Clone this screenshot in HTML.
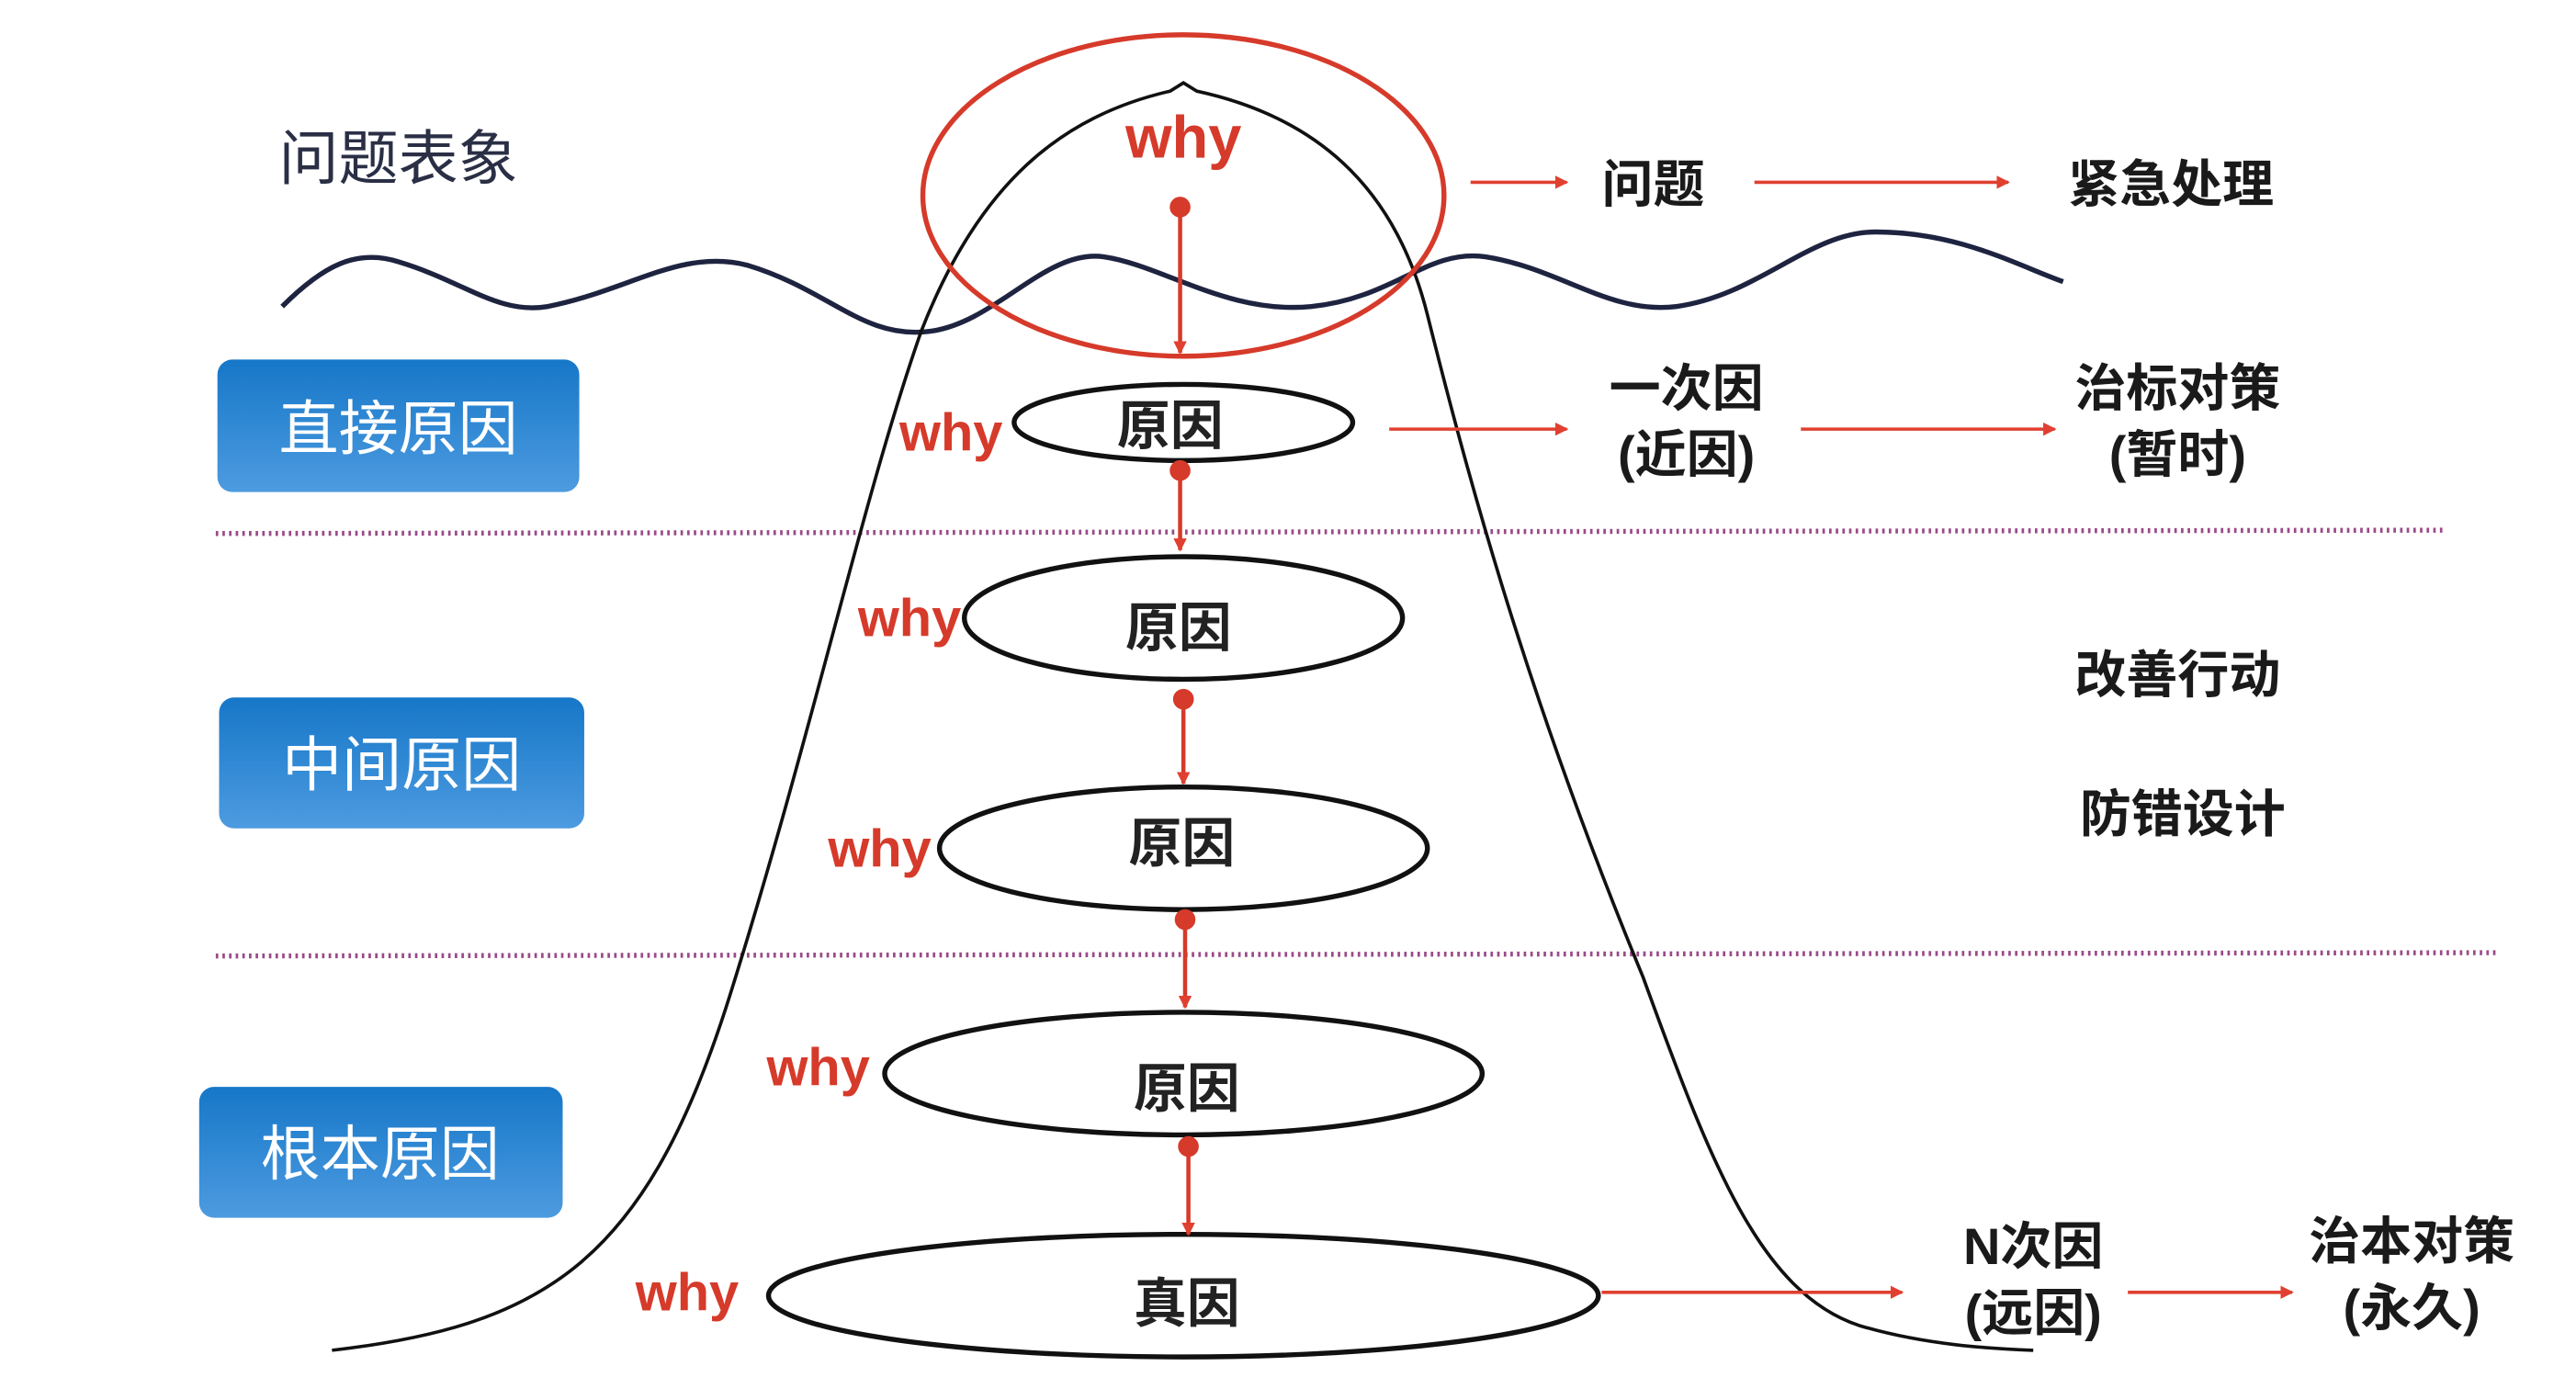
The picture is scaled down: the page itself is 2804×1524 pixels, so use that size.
<!DOCTYPE html>
<html><head><meta charset="utf-8"><style>
html,body{margin:0;padding:0;background:#fff;}
svg{display:block;}
text{font-family:"Liberation Sans","Noto Sans CJK SC",sans-serif;}
</style></head><body>
<svg width="2804" height="1524" viewBox="0 0 1552 845" preserveAspectRatio="none" xmlns="http://www.w3.org/2000/svg">
<defs>
<linearGradient id="bg" x1="0" y1="0" x2="0" y2="1"><stop offset="0" stop-color="#1677c8"/><stop offset="1" stop-color="#4d9be0"/></linearGradient>
<marker id="ah" markerWidth="8" markerHeight="8" refX="7" refY="4" orient="auto" markerUnits="userSpaceOnUse"><path d="M0,0 L8,4 L0,8 z" fill="#e04030"/></marker>
</defs>
<!-- dotted lines -->
<line x1="130" y1="322" x2="1472" y2="320" stroke="#9a4a88" stroke-width="3" stroke-dasharray="1.5 2.5"/>
<line x1="130" y1="577" x2="1505" y2="575" stroke="#9a4a88" stroke-width="3" stroke-dasharray="1.5 2.5"/>
<!-- wave -->
<path d="M170,185 C195,160 215,150 240,158 C280,170 300,190 330,185 C380,175 410,150 450,160 C500,175 520,205 560,200 C600,195 630,150 665,155 C700,160 740,190 790,185 C840,180 860,150 895,155 C940,162 970,190 1010,185 C1060,178 1090,140 1130,140 C1180,140 1215,160 1243,170" fill="none" stroke="#1e2440" stroke-width="3"/>
<!-- mountain -->
<path d="M200,815 C330,800 390,760 440,600 C490,440 520,300 555,200 C590,110 640,70 705,55 L713,50 L721,55 C790,70 840,110 860,190 C885,290 920,420 990,590 C1030,700 1060,780 1120,800 C1160,812 1200,814 1225,815" fill="none" stroke="#111" stroke-width="2"/>
<!-- red circle -->
<ellipse cx="713" cy="118" rx="157" ry="97" fill="none" stroke="#d63a2a" stroke-width="3"/>
<!-- ellipses -->
<g fill="#fff" stroke="#111" stroke-width="3">
<ellipse cx="713" cy="255" rx="102" ry="23"/>
<ellipse cx="713" cy="373" rx="132" ry="37"/>
<ellipse cx="713" cy="512" rx="147" ry="37"/>
<ellipse cx="713" cy="648" rx="180" ry="37"/>
<ellipse cx="713" cy="782" rx="250" ry="37"/>
</g>
<!-- vertical arrows -->
<g stroke="#d63a2a" stroke-width="2.5" fill="#d63a2a">
<line x1="711" y1="125" x2="711" y2="213" marker-end="url(#ah)"/><circle cx="711" cy="125" r="5"/>
<line x1="711" y1="284" x2="711" y2="332" marker-end="url(#ah)"/><circle cx="711" cy="284" r="5"/>
<line x1="713" y1="422" x2="713" y2="473" marker-end="url(#ah)"/><circle cx="713" cy="422" r="5"/>
<line x1="714" y1="555" x2="714" y2="608" marker-end="url(#ah)"/><circle cx="714" cy="555" r="5"/>
<line x1="716" y1="692" x2="716" y2="745" marker-end="url(#ah)"/><circle cx="716" cy="692" r="5"/>
</g>
<!-- ellipse labels -->
<g font-size="32" fill="#222" text-anchor="middle" font-weight="bold">
<text x="705" y="268">原因</text>
<text x="710" y="390">原因</text>
<text x="712" y="520">原因</text>
<text x="715" y="668">原因</text>
<text x="715" y="798">真因</text>
</g>
<!-- why -->
<g fill="#d63a2a" font-weight="bold" text-anchor="middle">
<text x="713" y="95" font-size="36">why</text>
<text x="573" y="272" font-size="32">why</text>
<text x="548" y="384" font-size="32">why</text>
<text x="530" y="523" font-size="32">why</text>
<text x="493" y="655" font-size="32">why</text>
<text x="414" y="791" font-size="32">why</text>
</g>
<!-- left labels -->
<text x="168" y="108" font-size="36" fill="#2a2f45">问题表象</text>
<rect x="131" y="217" width="218" height="80" rx="9" fill="url(#bg)"/>
<rect x="132" y="421" width="220" height="79" rx="9" fill="url(#bg)"/>
<rect x="120" y="656" width="219" height="79" rx="9" fill="url(#bg)"/>
<g fill="#fff" font-size="36" text-anchor="middle">
<text x="240" y="271">直接原因</text>
<text x="242" y="474">中间原因</text>
<text x="229" y="709">根本原因</text>
</g>
<!-- horizontal arrows -->
<g stroke="#e04030" stroke-width="2" fill="none">
<line x1="886" y1="110" x2="944" y2="110" marker-end="url(#ah)"/>
<line x1="1057" y1="110" x2="1210" y2="110" marker-end="url(#ah)"/>
<line x1="837" y1="259" x2="944" y2="259" marker-end="url(#ah)"/>
<line x1="1085" y1="259" x2="1238" y2="259" marker-end="url(#ah)"/>
<line x1="965" y1="780" x2="1146" y2="780" marker-end="url(#ah)"/>
<line x1="1282" y1="780" x2="1381" y2="780" marker-end="url(#ah)"/>
</g>
<!-- right texts -->
<g fill="#1a1a1a" font-size="31" font-weight="bold" text-anchor="middle">
<text x="996" y="122">问题</text>
<text x="1308" y="122">紧急处理</text>
<text x="1016" y="245">一次因</text>
<text x="1016" y="285">(近因)</text>
<text x="1312" y="245">治标对策</text>
<text x="1312" y="285">(暂时)</text>
<text x="1312" y="418">改善行动</text>
<text x="1315" y="502">防错设计</text>
<text x="1225" y="763">N次因</text>
<text x="1225" y="803">(远因)</text>
<text x="1453" y="760">治本对策</text>
<text x="1453" y="800">(永久)</text>
</g>
</svg>
</body></html>
